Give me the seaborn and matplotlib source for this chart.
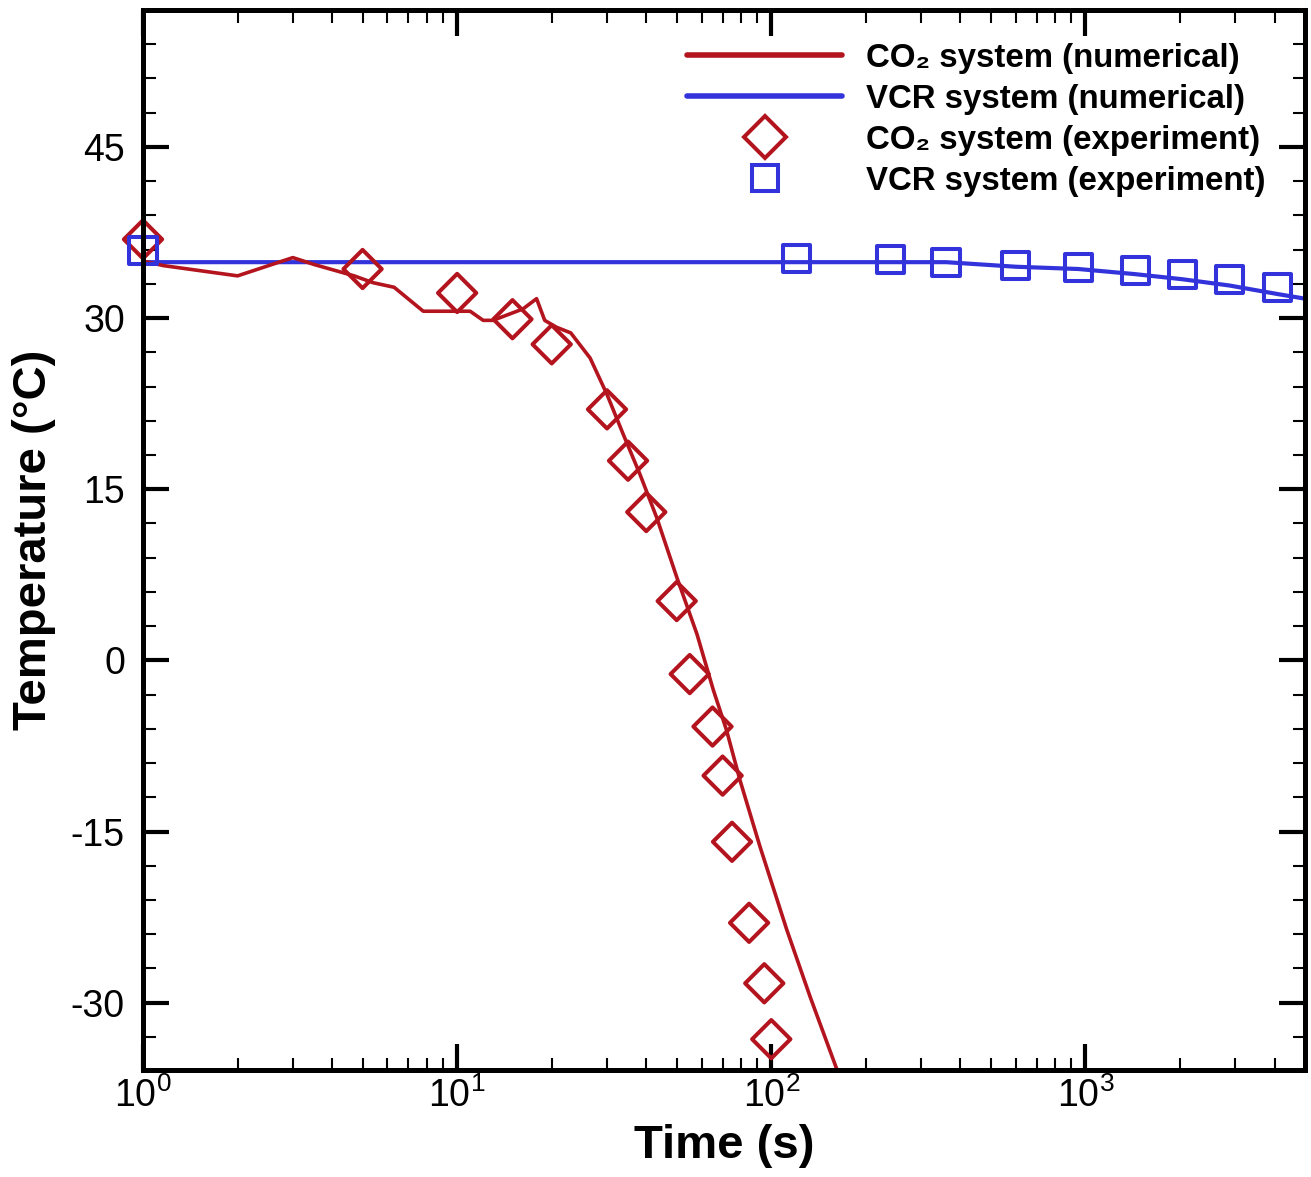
import numpy as np
import pandas as pd
import matplotlib
matplotlib.use("Agg")
import matplotlib.pyplot as plt
from matplotlib.lines import Line2D
from matplotlib.ticker import MultipleLocator, LogLocator
import seaborn as sns

# ---- data -------------------------------------------------------------
# CO2 system, numerical model
t_co2_num = [1.0, 1.16, 2.0, 3.0, 3.5, 4.7, 5.4, 6.3, 7.8, 11.0, 12.1, 13.0,
             16.2, 17.9, 19.0, 20.7, 23.0, 26.5, 30.0, 33.8, 38.2, 43.2,
             50.0, 58.0, 65.4, 72.0, 79.5, 92.0, 112.0, 133.0, 162.0]
T_co2_num = [35.0, 34.6, 33.7, 35.3, 34.7, 33.7, 33.1, 32.7, 30.6, 30.6, 29.8, 29.8,
             30.8, 31.7, 29.8, 29.2, 28.7, 26.5, 23.3, 19.8, 16.3, 12.5,
             7.3, 2.3, -2.6, -6.1, -10.5, -16.3, -23.6, -29.5, -35.9]

# VCR system, numerical model
t_vcr_num = [1, 360, 600, 950, 1440, 2040, 2880, 4100, 5000]
T_vcr_num = [34.9, 34.9, 34.5, 34.3, 33.85, 33.4, 32.85, 32.1, 31.7]

# CO2 system, experiment
t_co2_exp = [1, 5, 10, 15, 20, 30, 35, 40, 50, 55, 65, 70, 75, 85, 95, 100]
T_co2_exp = [36.9, 34.3, 32.2, 29.9, 27.7, 22.0, 17.5, 13.0, 5.2, -1.2,
             -5.8, -10.1, -15.9, -23.0, -28.3, -33.2]

# VCR system, experiment
t_vcr_exp = [1, 120, 240, 360, 600, 950, 1440, 2040, 2880, 4100]
T_vcr_exp = [35.9, 35.2, 35.1, 34.9, 34.6, 34.4, 34.2, 33.8, 33.4, 32.7]

legend_labels = ["CO\u2082 system (numerical)", "VCR system (numerical)",
                 "CO\u2082 system (experiment)", "VCR system (experiment)"]
y_ticks = [-30, -15, 0, 15, 30, 45]

# ---- style ------------------------------------------------------------
sns.set_theme(style="ticks")
plt.rcParams["font.family"] = ["Liberation Sans", "DejaVu Sans"]
plt.rcParams["mathtext.default"] = "regular"
plt.rcParams["axes.unicode_minus"] = False
plt.rcParams["text.color"] = "black"
plt.rcParams["axes.labelcolor"] = "black"

RED = "#B3141E"
BLUE = "#3333DC"

W, H = 1311, 1177
fig = plt.figure(figsize=(W / 100, H / 100), dpi=100)
ax = fig.add_axes([143 / W, 1 - 1070 / H, (1305 - 143) / W, (1070 - 10) / H])

df_co2 = pd.DataFrame({"t": t_co2_num, "T": T_co2_num})
df_vcr = pd.DataFrame({"t": t_vcr_num, "T": T_vcr_num})
dx_co2 = pd.DataFrame({"t": t_co2_exp, "T": T_co2_exp})
dx_vcr = pd.DataFrame({"t": t_vcr_exp, "T": T_vcr_exp})

sns.lineplot(data=df_vcr, x="t", y="T", ax=ax, color=BLUE, linewidth=3.0,
             sort=False, estimator=None, zorder=3)
sns.lineplot(data=df_co2, x="t", y="T", ax=ax, color=RED, linewidth=2.6,
             sort=False, estimator=None, zorder=3)
sns.scatterplot(data=dx_co2, x="t", y="T", ax=ax, marker="D", s=19.5 ** 2,
                facecolor="none", edgecolor=RED, linewidth=2.9, zorder=4,
                clip_on=False)
sns.scatterplot(data=dx_vcr, x="t", y="T", ax=ax, marker="s", s=19.5 ** 2,
                facecolor="none", edgecolor=BLUE, linewidth=2.9, zorder=4,
                clip_on=False)

ax.set_xscale("log")
ax.set_xlim(1, 5000)
ax.set_ylim(-35.9, 57)
ax.set_yticks(y_ticks)
ax.yaxis.set_minor_locator(MultipleLocator(3))
ax.xaxis.set_major_locator(LogLocator(base=10))
ax.xaxis.set_minor_locator(LogLocator(base=10, subs=np.arange(2, 10)))

for s in ax.spines.values():
    s.set_linewidth(3.6)
    s.set_color("black")
    s.set_zorder(5)

ax.tick_params(which="both", direction="in", top=True, right=True,
               colors="black", labelcolor="black")
ax.tick_params(which="major", length=19, width=3.0)
ax.tick_params(which="minor", length=9, width=1.5)
ax.tick_params(axis="y", which="major", labelsize=27, pad=13)
ax.tick_params(axis="x", which="major", labelsize=27, pad=5)

ax.set_xlabel("Time (s)", fontsize=34, fontweight="bold", labelpad=7)
ax.set_ylabel("Temperature (\u00b0C)", fontsize=34, fontweight="bold", labelpad=11)

handles = [
    Line2D([], [], color=RED, linewidth=4),
    Line2D([], [], color=BLUE, linewidth=4),
    Line2D([], [], color=RED, marker="D", markersize=21, markerfacecolor="none",
           markeredgewidth=2.9, linestyle="none"),
    Line2D([], [], color=BLUE, marker="s", markersize=19, markerfacecolor="none",
           markeredgewidth=2.9, linestyle="none"),
]
ax.legend(handles, legend_labels, loc="upper left",
          bbox_to_anchor=(687 / W, 1 - 43 / H), bbox_transform=fig.transFigure,
          frameon=False, prop={"weight": "bold", "size": 23.8},
          handlelength=4.7, handletextpad=0.7, labelspacing=0.3,
          borderpad=0, borderaxespad=0, numpoints=1)

fig.savefig("out.png", dpi=100, facecolor="white")
